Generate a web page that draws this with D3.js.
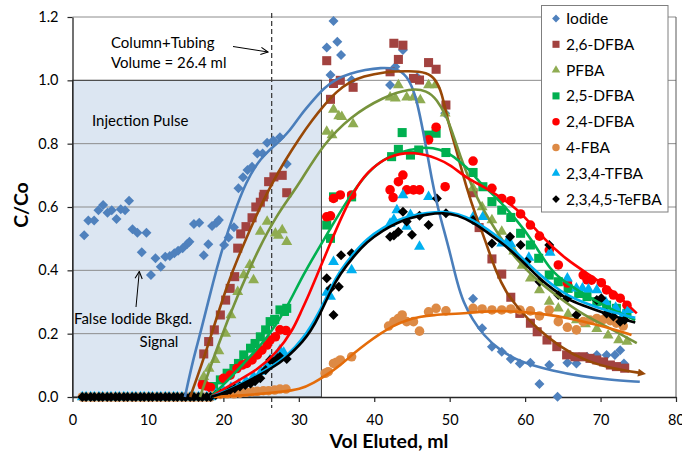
<!DOCTYPE html>
<html><head><meta charset="utf-8">
<script src="https://cdn.jsdelivr.net/npm/d3@7"></script>
<style>
html,body{margin:0;padding:0;background:#fff;}
svg{display:block;font-family:Lato,"Open Sans",sans-serif;}
</style></head>
<body>
<svg id="chart" width="682" height="453"></svg>
<script>
// ---------- DATA ----------
const xTicks = [0,10,20,30,40,50,60,70,80];
const yTicks = [0,0.2,0.4,0.6,0.8,1.0,1.2];
const seriesNames = ["Iodide","2,6-DFBA","PFBA","2,5-DFBA","2,4-DFBA","4-FBA","2,3,4-TFBA","2,3,4,5-TeFBA"];
const baselineX = [1.3,1.8,2.4,2.9,3.5,4.0,4.6,5.1,5.7,6.2,6.8,7.3,7.9,8.4,9.0,9.5,10.1,10.6,11.2,11.7,12.3,12.8,13.4,13.9,14.5,15.0,15.6,16.1,16.7,17.2,17.8,18.3];
const injectionPulse = {x0:0, x1:33, y:1.0};
const columnVolume = 26.4;

const iodide = [[1.55,0.511],[2.1,0.557],[2.87,0.557],[3.44,0.59],[4.06,0.606],[4.64,0.582],[5.2,0.59],[5.83,0.562],[6.4,0.593],[6.97,0.59],[7.5,0.62],[7.95,0.53],[8.6,0.519],[9.8,0.519],[9.18,0.457],[10.4,0.385],[11.0,0.438],[11.7,0.411],[12.3,0.443],[12.9,0.445],[13.5,0.454],[14.0,0.462],[14.6,0.47],[15.2,0.483],[15.5,0.49],[16.1,0.546],[16.8,0.55],[17.4,0.448],[18.0,0.482],[18.5,0.54],[19.1,0.55],[19.4,0.559],[20.1,0.48],[20.7,0.504],[21.4,0.536],[22.0,0.659],[22.6,0.694],[23.2,0.717],[23.8,0.727],[24.5,0.769],[25.2,0.769],[25.8,0.803],[26.6,0.81],[27.5,0.82],[28.4,0.736],
[33.7,1.104],[34.2,1.017],[34.6,1.187],[35.1,1.122],[35.6,1.08],[37.0,1.001],[42.1,0.985],[42.8,1.043],[43.8,1.096],[45.7,1.01],[49.4,0.896],
[53.1,0.31],[54.3,0.217],[55.6,0.159],[56.9,0.143],[58.1,0.12],[59.3,0.106],[60.7,0.108],[61.9,0.041],[63.2,0.101],[64.3,0.001],[65.6,0.108],[66.8,0.106],[68.2,0.127],[69.5,0.133],[70.8,0.133],[71.9,0.133],[72.6,0.148],[73.1,0.106]];

const dfba26 = [[17.3,0.04],[17.4,0.136],[18.05,0.175],[18.8,0.212],[19.6,0.259],[20.3,0.306],[20.9,0.343],[21.5,0.38],[21.9,0.47],[22.3,0.515],[23.0,0.538],[23.8,0.566],[24.3,0.6],[24.9,0.615],[25.3,0.632],[25.4,0.64],[26.0,0.68],[26.7,0.695],[27.8,0.70],[28.4,0.645],
[33.7,1.062],[34.2,0.94],[34.6,0.99],[35.5,1.0],[37.2,0.978],[42.1,1.027],[42.6,1.117],[43.2,1.066],[43.8,1.111],[45.2,1.006],[46.0,1.001],[47.2,1.056],[48.2,1.035],[49.5,0.922],[53.1,0.645],
[53.9,0.535],[55.6,0.436],[56.9,0.388],[58.1,0.315],[59.3,0.264],[60.7,0.233],[61.6,0.206],[62.9,0.18],[64.2,0.159],[65.5,0.133],[66.6,0.127],[67.7,0.127],[68.6,0.122],[69.5,0.117],[70.4,0.111],[71.3,0.101],[72.1,0.096],[73.2,0.091]];

const pfba = [[17.4,0.064],[18.1,0.09],[18.9,0.117],[19.4,0.145],[20.3,0.2],[21.0,0.259],[21.9,0.332],[22.7,0.385],[23.5,0.417],[24.0,0.369],[24.9,0.522],[25.8,0.554],[26.9,0.517],[27.3,0.51],[27.8,0.527],[28.4,0.49],
[33.7,0.838],[34.4,0.827],[34.6,0.908],[35.3,0.887],[35.7,0.885],[37.2,0.862],[42.1,0.946],[42.8,0.943],[43.2,0.985],[44.3,0.946],[45.2,0.946],[46.1,0.938],[47.2,0.985],[48.1,0.985],[49.4,0.896],
[53.1,0.66],[54.3,0.6],[55.6,0.559],[56.9,0.522],[58.5,0.46],[59.6,0.415],[60.7,0.375],[61.9,0.338],[63.2,0.301],[64.4,0.28],[65.7,0.262],[66.8,0.243],[68.0,0.23],[69.5,0.215],[71.0,0.195],[72.4,0.18],[73.5,0.175]];

const dfba25 = [[18.7,0.033],[19.6,0.054],[20.5,0.075],[21.4,0.09],[22.0,0.106],[22.7,0.133],[23.6,0.154],[24.2,0.169],[24.9,0.19],[25.6,0.212],[26.2,0.238],[26.8,0.245],[27.5,0.275],[28.1,0.27],[28.4,0.28],
[33.7,0.543],[34.2,0.501],[34.6,0.632],[37.0,0.632],[42.3,0.759],[43.2,0.782],[43.7,0.835],[44.8,0.764],[45.9,0.78],[47.2,0.827],[48.2,0.833],[49.5,0.772],[53.1,0.709],
[54.4,0.664],[55.6,0.617],[56.9,0.59],[58.1,0.567],[59.4,0.517],[60.7,0.48],[61.8,0.438],[63.2,0.385],[64.4,0.364],[65.7,0.343],[67.1,0.327],[68.2,0.317],[69.5,0.301],[70.8,0.29],[72.1,0.28],[73.5,0.264]];

const dfba24 = [[17.2,0.038],[17.7,0.035],[18.3,0.03],[20.0,0.059],[20.9,0.069],[21.8,0.09],[22.5,0.101],[23.1,0.106],[23.8,0.117],[24.5,0.133],[25.1,0.148],[25.8,0.164],[26.2,0.18],[26.9,0.19],[27.5,0.212],[28.3,0.21],
[33.7,0.569],[34.2,0.572],[34.6,0.627],[35.5,0.638],[37.0,0.638],[42.1,0.654],[42.5,0.63],[43.2,0.68],[43.8,0.701],[44.3,0.654],[45.2,0.654],[46.0,0.654],[47.2,0.812],[48.2,0.852],[49.4,0.664],[53.1,0.745],
[55.6,0.659],[56.9,0.627],[58.1,0.62],[59.4,0.578],[60.7,0.543],[61.9,0.508],[63.2,0.464],[64.4,0.417],[65.6,0.36],[67.7,0.385],[68.2,0.37],[68.8,0.369],[70.1,0.361],[70.8,0.338],[71.7,0.322],[72.6,0.312],[73.5,0.29]];

const fba4 = [[18.7,0.005],[19.6,0.008],[20.5,0.01],[21.4,0.01],[22.2,0.012],[23.0,0.015],[23.8,0.017],[24.5,0.018],[25.3,0.02],[26.0,0.02],[26.8,0.022],[27.5,0.025],[28.3,0.025],
[33.5,0.075],[33.9,0.08],[34.6,0.106],[35.0,0.11],[35.5,0.117],[37.0,0.127],[41.9,0.224],[42.6,0.238],[43.2,0.248],[43.7,0.259],[44.3,0.238],[45.2,0.238],[46.0,0.208],[47.2,0.269],[48.2,0.28],[49.5,0.272],[53.1,0.28],
[54.3,0.278],[55.6,0.275],[56.9,0.275],[58.1,0.278],[59.3,0.275],[60.7,0.272],[61.9,0.256],[63.2,0.275],[64.4,0.238],[65.6,0.22],[66.8,0.212],[67.7,0.238],[68.6,0.243],[69.5,0.248],[70.4,0.245],[71.3,0.241],[72.1,0.233],[73.0,0.224]];

const tfba = [[19.0,0.01],[20.0,0.02],[21.0,0.03],[22.0,0.04],[23.0,0.05],[24.0,0.065],[25.0,0.08],[25.8,0.1],[26.2,0.117],[27.0,0.13],[27.5,0.148],[28.0,0.14],
[33.7,0.33],[34.2,0.317],[34.6,0.427],[37.0,0.401],[42.1,0.548],[42.6,0.56],[43.0,0.59],[43.8,0.638],[44.3,0.538],[44.8,0.575],[46.0,0.475],[47.2,0.632],[53.2,0.572],
[54.4,0.569],[56.9,0.485],[57.6,0.49],[58.1,0.483],[60.5,0.44],[63.3,0.456],[65.6,0.375],[66.8,0.343],[67.6,0.343],[68.4,0.34],[69.5,0.338],[70.7,0.3],[72.0,0.282],[73.0,0.259],[73.7,0.275]];

const tefba = [[19.0,0.006],[19.6,0.012],[20.3,0.015],[20.9,0.022],[21.5,0.027],[22.2,0.033],[22.9,0.038],[23.6,0.043],[24.2,0.05],[24.9,0.059],[25.6,0.085],[26.2,0.117],[26.7,0.111],[27.2,0.122],[27.5,0.127],[28.4,0.12],
[33.7,0.375],[34.2,0.343],[34.6,0.259],[35.3,0.348],[35.6,0.448],[37.0,0.454],[42.1,0.506],[42.6,0.51],[43.2,0.522],[43.8,0.585],[44.3,0.554],[45.0,0.512],[46.0,0.572],[47.2,0.543],[48.3,0.627],[49.5,0.58],[53.1,0.559],
[55.6,0.485],[58.0,0.506],[59.4,0.48],[60.2,0.427],[61.9,0.364],[63.2,0.48],[64.4,0.322],[65.6,0.312],[66.8,0.259],[69.5,0.306],[70.1,0.312],[70.8,0.264],[71.7,0.254],[72.6,0.238],[73.2,0.243]];

// fitted curves
const iodideFit = [[14.9,0],[16.0,0.12],[16.95,0.2],[18.7,0.37],[20,0.48],[21.4,0.58],[23,0.68],[24.9,0.755],[27.1,0.80],[28.8,0.84],[30.2,0.89],[32,0.94],[33.3,0.975],[35,1.005],[36.8,1.022],[38.8,1.033],[40.8,1.04],[43,1.038],[44.3,1.015],[45.2,0.97],[45.8,0.92],[46.8,0.80],[47.6,0.69],[48.4,0.60],[49.2,0.53],[50.1,0.45],[51.0,0.36],[51.8,0.30],[53,0.245],[54.5,0.195],[56.5,0.15],[58.9,0.117],[61,0.1],[63.3,0.085],[67.7,0.064],[71,0.055],[75.2,0.048]];
const dfba26Fit = [[15.6,0],[17.8,0.148],[20.5,0.359],[23.1,0.506],[25.3,0.622],[26.7,0.685],[28,0.74],[30.2,0.822],[31.8,0.875],[33.3,0.92],[35,0.965],[36.8,0.996],[38.5,1.012],[41.2,1.027],[44.8,1.03],[47,1.025],[48.1,1.005],[49,0.959],[49.6,0.885],[51,0.77],[52.3,0.654],[53.5,0.57],[54.7,0.496],[56.2,0.39],[57.5,0.33],[58.9,0.285],[61.5,0.217],[64.6,0.159],[67.7,0.117],[71.3,0.091],[75.5,0.075]];
const pfbaFit = [[16.9,0],[19.2,0.159],[21.8,0.317],[24.9,0.48],[27,0.57],[28.9,0.635],[30.2,0.68],[33.3,0.80],[36.8,0.885],[41.2,0.948],[44.8,0.975],[47,0.968],[48.3,0.94],[49.6,0.885],[50.3,0.84],[51.4,0.76],[52.7,0.68],[54,0.61],[55.5,0.55],[57.1,0.49],[58.9,0.433],[61.5,0.369],[64.6,0.312],[67.7,0.259],[71.3,0.217],[74.8,0.17]];
const dfba25Fit = [[18.3,0],[20.9,0.059],[23.1,0.117],[25.8,0.185],[28.4,0.28],[30.2,0.37],[32.4,0.46],[34.5,0.545],[36.4,0.62],[39,0.71],[41.7,0.76],[44.8,0.782],[47,0.79],[48.7,0.782],[50.1,0.766],[51,0.75],[52.7,0.717],[54,0.675],[55.7,0.643],[58.9,0.559],[61.1,0.49],[63.3,0.40],[65.5,0.359],[68.6,0.312],[72.1,0.269],[74.6,0.243]];
const dfba24Fit = [[18.3,0],[21.4,0.045],[24.5,0.085],[27.1,0.14],[29.3,0.215],[30.2,0.265],[31.1,0.31],[32.5,0.39],[34,0.475],[35.5,0.56],[37.3,0.65],[39,0.71],[42,0.765],[45.5,0.775],[48.5,0.752],[50.1,0.733],[52.3,0.69],[54.5,0.665],[58.9,0.60],[62.4,0.50],[65.5,0.433],[68.6,0.385],[72.1,0.327],[74.8,0.264]];
const fba4Fit = [[18.7,0],[22,0.004],[24.9,0.01],[27.5,0.016],[30.2,0.024],[32,0.045],[33.7,0.07],[35.5,0.1],[37.3,0.138],[39,0.17],[40.8,0.2],[42.5,0.225],[44.3,0.243],[46,0.253],[47.9,0.259],[50.1,0.262],[52.3,0.265],[54.5,0.27],[56.5,0.272],[58.9,0.27],[61,0.265],[63.3,0.259],[65.5,0.25],[67.7,0.238],[71.3,0.217],[74.1,0.196]];
const tfbaFit = [[18.3,0],[19.5,0.01],[21.4,0.03],[24,0.063],[26.7,0.1],[28.4,0.13],[30.5,0.18],[32.8,0.27],[34.2,0.345],[35.5,0.4],[37.3,0.455],[39,0.5],[41.2,0.535],[43,0.558],[44.8,0.572],[47,0.582],[49.2,0.586],[51,0.58],[53.2,0.558],[55,0.53],[56.7,0.5],[58.5,0.465],[60.2,0.425],[62,0.385],[63.8,0.35],[65.5,0.322],[67.5,0.3],[70.8,0.272],[74.6,0.25]];
const tefbaFit = [[18.3,0],[19.5,0.008],[21.4,0.027],[24,0.059],[26.7,0.095],[28.4,0.125],[29.5,0.15],[30.5,0.175],[31.5,0.205],[32.8,0.26],[34.2,0.335],[35.5,0.39],[37.3,0.445],[39,0.49],[41.2,0.527],[43,0.55],[44.8,0.566],[47,0.577],[49.2,0.582],[51,0.575],[53.2,0.55],[55,0.52],[56.7,0.49],[58.5,0.455],[60.2,0.415],[62,0.372],[63.8,0.338],[65.5,0.31],[67.5,0.29],[70.8,0.262],[74.6,0.235]];

// ---------- CHART ----------
const svg = d3.select("#chart");
const x = d3.scaleLinear().domain([0,80]).range([72.5,676]);
const y = d3.scaleLinear().domain([0,1.2]).range([397,17]);

const defs = svg.append("defs");
defs.append("marker").attr("id","openArrow").attr("viewBox","0 0 10 10").attr("refX",9).attr("refY",5)
  .attr("markerWidth",9).attr("markerHeight",9).attr("markerUnits","userSpaceOnUse").attr("orient","auto")
  .append("path").attr("d","M1,1 L9,5 L1,9").attr("fill","none").attr("stroke","#000").attr("stroke-width",1.2);
defs.append("marker").attr("id","brownArrow").attr("viewBox","0 0 10 10").attr("refX",5).attr("refY",5)
  .attr("markerWidth",9).attr("markerHeight",8).attr("markerUnits","userSpaceOnUse").attr("orient","auto")
  .append("path").attr("d","M0,0 L10,5 L0,10 Z").attr("fill","#984807");

// injection pulse box (fill)
svg.append("rect")
  .attr("x",x(injectionPulse.x0)).attr("y",y(injectionPulse.y))
  .attr("width",x(injectionPulse.x1)-x(injectionPulse.x0))
  .attr("height",y(0)-y(injectionPulse.y))
  .attr("fill","#dce6f2");

// gridlines
svg.append("g").selectAll("line").data(yTicks.filter(d=>d>0)).join("line")
  .attr("x1",x(0)).attr("x2",x(80)).attr("y1",d=>y(d)).attr("y2",d=>y(d))
  .attr("stroke","#8c8c8c").attr("stroke-width",1);

// injection pulse border
svg.append("rect")
  .attr("x",x(injectionPulse.x0)).attr("y",y(injectionPulse.y))
  .attr("width",x(injectionPulse.x1)-x(injectionPulse.x0))
  .attr("height",y(0)-y(injectionPulse.y))
  .attr("fill","none").attr("stroke","#404040").attr("stroke-width",1);

// plot area right border
svg.append("line").attr("x1",x(80)).attr("x2",x(80)).attr("y1",y(1.2)).attr("y2",y(0))
  .attr("stroke","#595959").attr("stroke-width",1);

// dashed column volume line
svg.append("line").attr("x1",x(columnVolume)).attr("x2",x(columnVolume))
  .attr("y1",13).attr("y2",408)
  .attr("stroke","#404040").attr("stroke-width",1.3).attr("stroke-dasharray","5,3");

// axes
const xAxis = svg.append("g").attr("transform",`translate(0,${y(0)})`)
  .call(d3.axisBottom(x).tickValues(xTicks).tickSize(5).tickSizeOuter(0).tickFormat(d3.format("d")));
const yAxis = svg.append("g").attr("transform",`translate(${x(0)},0)`)
  .call(d3.axisLeft(y).tickValues(yTicks).tickSize(5).tickSizeOuter(0).tickFormat(d3.format(".1f")));
[xAxis,yAxis].forEach(g=>{
  g.select(".domain").attr("stroke","#262626").attr("stroke-width",1.3);
  g.selectAll(".tick line").attr("stroke","#262626").attr("stroke-width",1.2);
  g.selectAll(".tick text").attr("font-family","Lato").attr("font-size",14.5).attr("fill","#000");
});
xAxis.selectAll(".tick text").attr("dy","1.4em");
yAxis.selectAll(".tick text").attr("x",-14);

function shapePath(shape, big){
  const k = big ? 1 : 0.78;
  if(shape==="diamond") return d3.symbol(d3.symbolSquare, 50*k*k)();
  if(shape==="square") return d3.symbol(d3.symbolSquare, 82*k*k)();
  if(shape==="circle") return d3.symbol(d3.symbolCircle, 72*k*k)();
  return d3.symbol(d3.symbolTriangle, 52*k*k)();
}
const markerDefs = [
  {name:seriesNames[0], data:iodide,  fit:iodideFit,  mcol:"#4f81bd", lcol:"#4a7ebb", shape:"diamond"},
  {name:seriesNames[1], data:dfba26,  fit:dfba26Fit,  mcol:"#a2423f", lcol:"#984807", shape:"square"},
  {name:seriesNames[2], data:pfba,    fit:pfbaFit,    mcol:"#8fac52", lcol:"#77933c", shape:"triangle"},
  {name:seriesNames[3], data:dfba25,  fit:dfba25Fit,  mcol:"#00b050", lcol:"#00b050", shape:"square"},
  {name:seriesNames[4], data:dfba24,  fit:dfba24Fit,  mcol:"#ff0000", lcol:"#ff0000", shape:"circle"},
  {name:seriesNames[5], data:fba4,    fit:fba4Fit,    mcol:"#dd8a45", lcol:"#e46c0a", shape:"circle"},
  {name:seriesNames[6], data:tfba,    fit:tfbaFit,    mcol:"#00b0f0", lcol:"#00b0f0", shape:"triangle"},
  {name:seriesNames[7], data:tefba,   fit:tefbaFit,   mcol:"#000000", lcol:"#000000", shape:"diamond"}
];
const baseFor = new Set([seriesNames[5], seriesNames[6], seriesNames[7]]);
const ptsG = svg.append("g");
markerDefs.forEach(s=>{
  let pts = s.data;
  if(baseFor.has(s.name)) pts = baselineX.map(v=>[v,0]).concat(pts);
  ptsG.append("g").selectAll("path").data(pts).join("path")
    .attr("d", shapePath(s.shape,true))
    .attr("transform", d=>`translate(${x(d[0])},${y(d[1])})` + (s.shape==="diamond" ? " rotate(45)" : ""))
    .attr("fill", s.mcol);
});

// fit lines
const line = d3.line().x(d=>x(d[0])).y(d=>y(d[1])).curve(d3.curveBasis);
const linesG = svg.append("g");
markerDefs.forEach(s=>{
  const p = linesG.append("path").datum(s.fit).attr("d",line)
    .attr("fill","none").attr("stroke",s.lcol).attr("stroke-width",2.6).attr("stroke-linejoin","round");
  if(s.name===seriesNames[1]) p.attr("marker-end","url(#brownArrow)");
});

// annotations
const ann = svg.append("g").attr("font-family","Lato").attr("font-size",15).attr("fill","#000");
ann.append("text").attr("x",111).attr("y",48).text("Column+Tubing");
ann.append("text").attr("x",111).attr("y",68).text("Volume = 26.4 ml");
ann.append("text").attr("x",92).attr("y",126).text("Injection Pulse");
ann.append("text").attr("x",74).attr("y",324).text("False Iodide Bkgd.");
ann.append("text").attr("x",159).attr("y",347).attr("text-anchor","middle").text("Signal");
svg.append("line").attr("x1",233).attr("y1",46.5).attr("x2",268).attr("y2",52)
  .attr("stroke","#000").attr("stroke-width",1).attr("marker-end","url(#openArrow)");
svg.append("line").attr("x1",136).attr("y1",307).attr("x2",139.3).attr("y2",271.5)
  .attr("stroke","#000").attr("stroke-width",1).attr("marker-end","url(#openArrow)");

// axis titles
svg.append("text").attr("x",389).attr("y",448).attr("text-anchor","middle")
  .attr("font-family","Lato").attr("font-weight","bold").attr("font-size",19.5).text("Vol Eluted, ml");
svg.append("text").attr("transform","translate(28,205) rotate(-90)").attr("text-anchor","middle")
  .attr("font-family","Lato").attr("font-weight","bold").attr("font-size",19.5).text("C/Co");

// legend
const lg = svg.append("g");
lg.append("rect").attr("x",541.5).attr("y",5.5).attr("width",126.5).attr("height",206.5)
  .attr("fill","#fff").attr("stroke","#7f7f7f").attr("stroke-width",1);
markerDefs.forEach((s,i)=>{
  const cy = 18.5 + i*25.8;
  lg.append("path").attr("d",shapePath(s.shape,false))
    .attr("transform",`translate(556,${cy})`+(s.shape==="diamond"?" rotate(45)":""))
    .attr("fill",s.mcol);
  lg.append("text").attr("x",566).attr("y",cy+5.5).attr("font-family","Lato").attr("font-size",15.5)
    .attr("fill","#000").text(s.name);
});
</script>
</body></html>
